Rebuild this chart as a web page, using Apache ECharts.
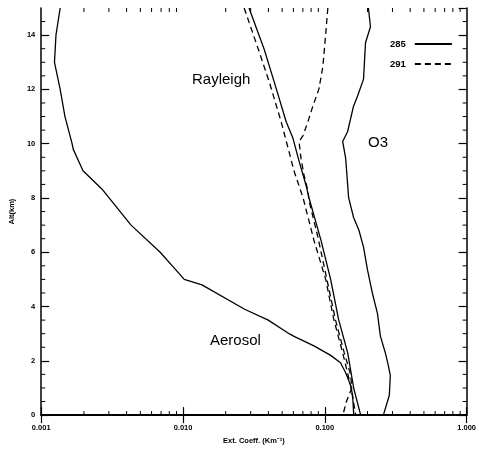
<!DOCTYPE html>
<html>
<head>
<meta charset="utf-8">
<script src="https://cdn.jsdelivr.net/npm/echarts@6/dist/echarts.min.js"></script>
<style>
  html, body { margin: 0; padding: 0; background: #fff; }
  #chart { width: 479px; height: 450px; }
</style>
</head>
<body>
<div id="chart"></div>
<script>
// Extinction coefficient profiles (km^-1) versus altitude (km)

// Aerosol
const aerosolAlt = [15, 14, 13, 12, 11, 10, 9.8, 9.0, 8.3, 7.0, 6.0, 5.5, 5.0, 4.8, 3.9, 3.5, 3.0, 2.9, 2.55, 2.2, 1.93, 1.57, 1.1, 0.73, 0];
const aerosolExt = [0.00136, 0.00127, 0.00124, 0.00136, 0.00147, 0.00165, 0.00168, 0.00197, 0.00271, 0.0043, 0.0069, 0.0084, 0.0102, 0.0136, 0.0272, 0.0399, 0.056, 0.0607, 0.0838, 0.110, 0.129, 0.140, 0.152, 0.157, 0.160];

// Rayleigh, 285 nm
const ray285Alt = [15, 14.93, 13.47, 12.27, 10.81, 10.19, 9.36, 8.48, 8.01, 6.44, 4.99, 3.53, 2.29, 0.98, 0];
const ray285Ext = [0.0292, 0.0294, 0.0374, 0.044, 0.0534, 0.0597, 0.0658, 0.0736, 0.0773, 0.094, 0.110, 0.125, 0.145, 0.160, 0.179];

// Rayleigh, 291 nm
const ray291Alt = [15, 13.47, 12.27, 10.81, 9.83, 8.99, 8.01, 6.44, 4.99, 3.53, 2.29, 1.09, 0.47, 0];
const ray291Ext = [0.0270, 0.0340, 0.0406, 0.0492, 0.0551, 0.0607, 0.0702, 0.0838, 0.1016, 0.1156, 0.1337, 0.152, 0.1595, 0.165];

// Ozone, 285 nm
const o3285Alt = [15, 14.93, 14.31, 13.72, 12.38, 11.76, 11.39, 10.45, 10.08, 9.46, 8.48, 8.01, 7.28, 6.81, 6.19, 5.35, 4.48, 3.75, 2.91, 2.29, 1.82, 1.46, 0.73, 0];
const o3285Ext = [0.203, 0.2032, 0.2099, 0.1936, 0.1875, 0.1702, 0.1595, 0.1449, 0.1337, 0.1403, 0.1449, 0.1472, 0.1595, 0.174, 0.1875, 0.200, 0.2168, 0.235, 0.2466, 0.2673, 0.2805, 0.2897, 0.2851, 0.2588];

// Ozone, 291 nm
const o3291Alt = [15, 14.09, 12.85, 12.01, 11.39, 10.81, 10.30, 10.08, 9.46, 8.85, 8.26, 7.90, 6.6, 4.84, 3.5, 2.3, 1.5, 1.0, 0.5, 0];
const o3291Ext = [0.105, 0.1016, 0.0969, 0.0908, 0.0824, 0.076, 0.0702, 0.0658, 0.0679, 0.0713, 0.076, 0.0773, 0.089, 0.105, 0.119, 0.137, 0.152, 0.155, 0.142, 0.134];

// Axis ticks
const xMin = 0.001, xMax = 1;
const yMin = 0, yMax = 15, yStep = 2;
const decades = [0.001, 0.01, 0.1];
const minorMultipliers = [2, 3, 4, 5, 6, 7, 8, 9];
const yMinorTicks = [0.5, 1, 1.5, 2.5, 3, 3.5, 4.5, 5, 5.5, 6.5, 7, 7.5, 8.5, 9, 9.5, 10.5, 11, 11.5, 12.5, 13, 13.5, 14.5];
const legendNames = ['285', '291'];

const xMinorTicks = [];
decades.forEach(d => minorMultipliers.forEach(m => xMinorTicks.push([+(d * m).toPrecision(3), 0])));

const zip = (ext, alt) => ext.map((v, i) => [v, alt[i]]);

const font = 'Liberation Sans, Arial, Helvetica, sans-serif';
const solid = { color: '#000', width: 1.3, type: 'solid' };
const dashed = { color: '#000', width: 1.3, type: [6, 4] };

function lineSeries(name, data, style) {
  return {
    type: 'line', name, data, symbol: 'none', smooth: false,
    lineStyle: style, itemStyle: { color: '#000' },
    emphasis: { disabled: true }, animation: false, z: 3
  };
}

const chart = echarts.init(document.getElementById('chart'), null, { renderer: 'canvas' });

const axisLine = { show: true, lineStyle: { color: '#000', width: 1.5 } };

chart.setOption({
  animation: false,
  backgroundColor: '#fff',
  grid: { left: 38, right: 11, top: 8, bottom: 30, containLabel: false },
  legend: {
    data: legendNames,
    orient: 'vertical',
    align: 'right',
    left: 390,
    top: 39,
    padding: 0,
    itemWidth: 37,
    itemHeight: 10,
    itemGap: 10,
    selectedMode: false,
    itemStyle: { opacity: 0, borderWidth: 0 },
    textStyle: { fontFamily: font, fontSize: 9.5, fontWeight: 'bold', color: '#000', padding: [0, 4, 0, 0] }
  },
  xAxis: [
    {
      type: 'log', logBase: 10, min: xMin, max: xMax, position: 'bottom',
      axisLine: { show: true, lineStyle: { color: '#000', width: 2 } },
      splitLine: { show: false },
      axisTick: { inside: true, length: 8, lineStyle: { color: '#000', width: 1.2 } },
      axisLabel: {
        formatter: v => Number(v).toFixed(3), fontFamily: font, fontSize: 7.5,
        fontWeight: 'bold', color: '#000', margin: 9
      },
      name: 'Ext. Coeff. (Km⁻¹)', nameLocation: 'middle', nameGap: 17,
      nameTextStyle: { fontFamily: font, fontSize: 7.5, fontWeight: 'bold', color: '#000' }
    },
    {
      type: 'log', logBase: 10, min: xMin, max: xMax, position: 'top',
      axisLine, splitLine: { show: false },
      axisTick: { inside: true, length: 8, lineStyle: { color: '#000', width: 1.2 } },
      axisLabel: { show: false }
    }
  ],
  yAxis: [
    {
      type: 'value', min: yMin, max: yMax, interval: yStep, position: 'left',
      axisLine, splitLine: { show: false },
      axisTick: { inside: true, length: 8, lineStyle: { color: '#000', width: 1.2 } },
      axisLabel: {
        showMaxLabel: false, fontFamily: font, fontSize: 7.5, fontWeight: 'bold',
        color: '#000', margin: 6
      },
      name: 'Alt(km)', nameLocation: 'middle', nameGap: 19, nameRotate: 90,
      nameTextStyle: { fontFamily: font, fontSize: 7.5, fontWeight: 'bold', color: '#000' }
    },
    {
      type: 'value', min: yMin, max: yMax, interval: yStep, position: 'right',
      axisLine, splitLine: { show: false },
      axisTick: { inside: true, length: 8, lineStyle: { color: '#000', width: 1.2 } },
      axisLabel: { show: false }
    }
  ],
  series: [
    lineSeries('285', zip(aerosolExt, aerosolAlt), solid),
    lineSeries('285', zip(ray285Ext, ray285Alt), solid),
    lineSeries('285', zip(o3285Ext, o3285Alt), solid),
    lineSeries('291', zip(ray291Ext, ray291Alt), dashed),
    lineSeries('291', zip(o3291Ext, o3291Alt), dashed),
    {
      // minor ticks of the log axis, bottom and top edges
      type: 'custom', name: 'xminor', silent: true, clip: false,
      data: xMinorTicks, encode: { x: 0, y: 1 },
      renderItem: (params, api) => {
        const v = api.value(0);
        const b = api.coord([v, yMin]);
        const t = api.coord([v, yMax]);
        return {
          type: 'group', children: [
            { type: 'line', shape: { x1: b[0], y1: b[1], x2: b[0], y2: b[1] - 4 }, style: { stroke: '#000', lineWidth: 1 } },
            { type: 'line', shape: { x1: t[0], y1: t[1], x2: t[0], y2: t[1] + 4 }, style: { stroke: '#000', lineWidth: 1 } }
          ]
        };
      }
    },
    {
      // minor ticks of the altitude axis, left and right edges
      type: 'custom', name: 'yminor', silent: true, clip: false,
      data: yMinorTicks.map(v => [xMin, v]), encode: { x: 0, y: 1 },
      renderItem: (params, api) => {
        const v = api.value(1);
        const l = api.coord([xMin, v]);
        const r = api.coord([xMax, v]);
        return {
          type: 'group', children: [
            { type: 'line', shape: { x1: l[0], y1: l[1], x2: l[0] + 4, y2: l[1] }, style: { stroke: '#000', lineWidth: 1 } },
            { type: 'line', shape: { x1: r[0], y1: r[1], x2: r[0] - 4, y2: r[1] }, style: { stroke: '#000', lineWidth: 1 } }
          ]
        };
      }
    }
  ],
  graphic: [
    { type: 'text', left: 192, top: 72, style: { text: 'Rayleigh', font: '15px ' + font, fill: '#000' } },
    { type: 'text', left: 368, top: 135, style: { text: 'O3', font: '15px ' + font, fill: '#000' } },
    { type: 'text', left: 210, top: 333, style: { text: 'Aerosol', font: '15px ' + font, fill: '#000' } }
  ]
});
</script>
</body>
</html>
